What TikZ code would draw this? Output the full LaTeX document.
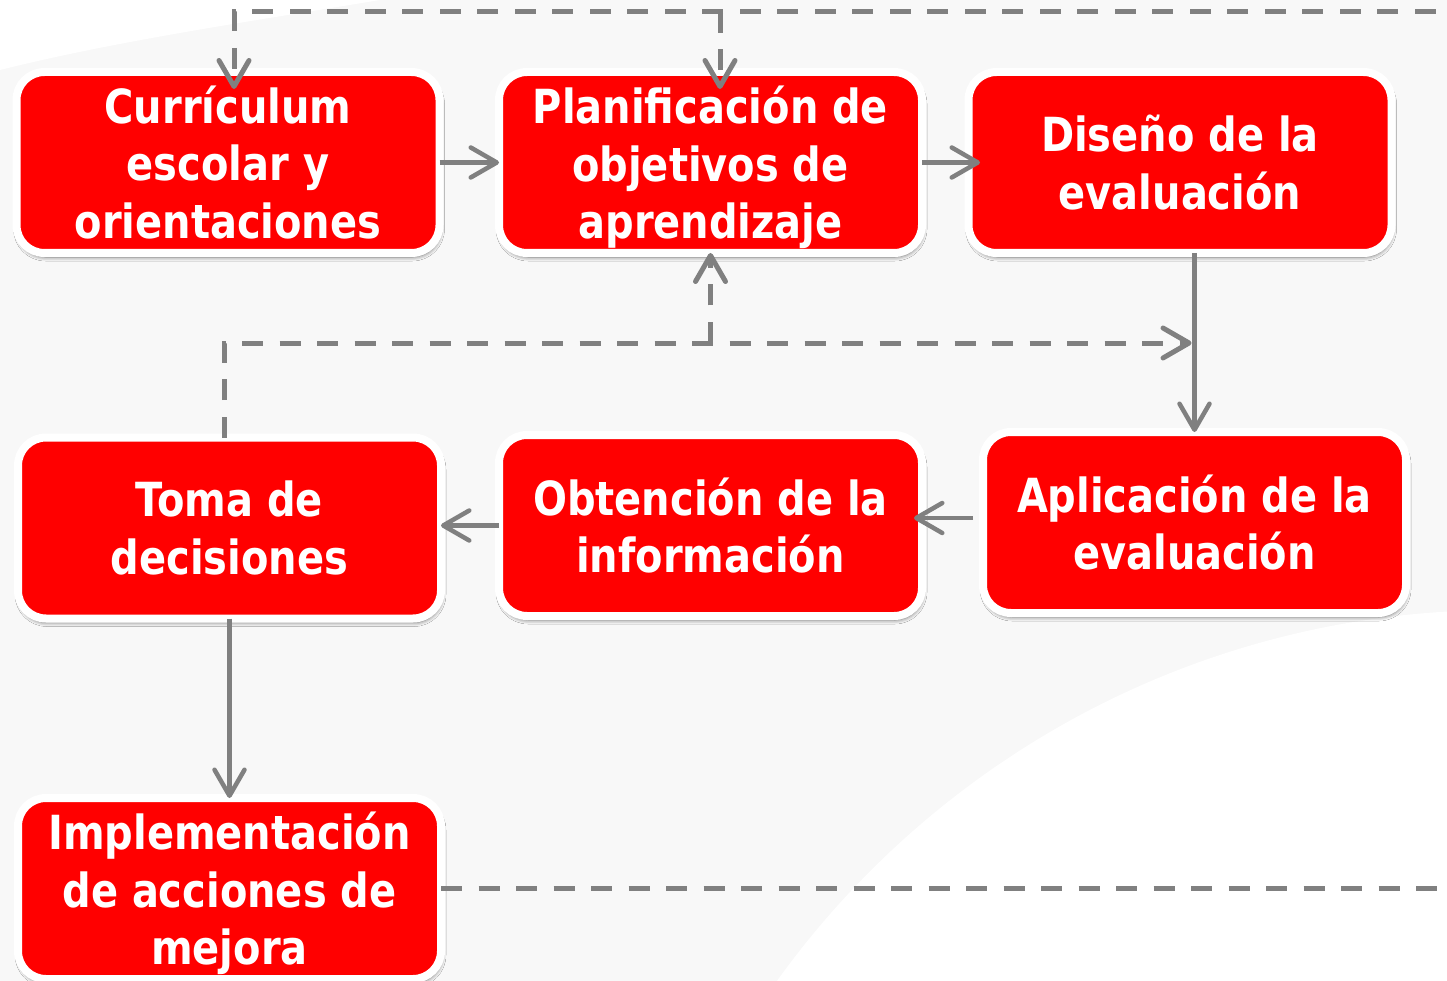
\documentclass[tikz,border=0pt]{standalone}
\usepackage{fontspec}
\newfontfamily\boxfont{DejaVu Sans Condensed}[FakeStretch=0.945]
\usetikzlibrary{arrows.meta,shadows.blur,calc}
\definecolor{boxred}{RGB}{255,0,0}
\definecolor{linegray}{RGB}{128,128,128}
\definecolor{bggray}{RGB}{248,248,248}
\newcommand\nodepth[1]{\raisebox{0pt}[\height][0pt]{#1}}
\tikzset{
  proc/.style={rectangle, rounded corners=28pt, fill=boxred, draw=white,
    line width=8pt, minimum width=423pt, minimum height=181pt,
    inner sep=0pt, outer sep=0pt, text=white, align=center,
    font={\boxfont\bfseries\fontsize{47}{57.5}\selectfont},
    blur shadow={shadow xshift=1pt, shadow yshift=-4pt,
      shadow blur radius=4pt, shadow opacity=60}},
  flow/.style={draw=linegray, line width=4.5pt,
    -{Straight Barb[length=26pt,width=30pt,round]}},
  feedback/.style={draw=linegray, line width=5pt,
    dash pattern=on 21pt off 16.5pt,
    -{Straight Barb[length=26pt,width=30pt,round]}}
}
\begin{document}
\begin{tikzpicture}[x=1pt,y=-1pt]
\useasboundingbox (0,0) rectangle (1447,981);
\clip (0,0) rectangle (1447,981);
% background
\fill[bggray] (0,0) rectangle (1447,981);
\fill[white] (1500,1500) circle (890);
\fill[white] (0,0) -- (380,0) .. controls (260,20) and (120,40) .. (0,70) -- cycle;
% boxes
\node[proc] (B1) at (228,162.5) {Currículum\\escolar y\\orientaciones};
\node[proc] (B2) at (710.5,162.5) {Planificación de\\objetivos de\\\nodepth{aprendizaje}};
\node[proc] (B3) at (1180,162.5) {Diseño de la\\evaluación};
\node[proc] (B4) at (1194.5,522.5) {Aplicación de la\\evaluación};
\node[proc] (B5) at (710.5,525.5) {Obtención de la\\información};
\node[proc] (B6) at (229.5,528) {Toma de\\decisiones};
\node[proc] (B7) at (229.5,888.5) {Implementación\\de acciones de\\\nodepth{mejora}};
% solid flow
\draw[flow] (B1.east) -- (B2.west);
\draw[flow] (B2.east) -- ([xshift=11.5pt]B3.west);
\draw[flow] (B4.north |- B3.south) -- (B4.north);
\draw[flow] ($(B4.west)+(-10,-4.5)$) -- ($(B5.east)+(-8,-7.5)$);
\draw[flow] (B5.west) -- (B5.west -| B6.east);
\draw[flow] (B6.south) -- (B7.north);
% dashed feedback
\coordinate (rtop) at (1475,12);
\coordinate (ltop) at (234,12);
\coordinate (mtop) at (720,12);
\coordinate (lmid) at (224,343);
\coordinate (mmid) at (710.5,343);
\draw[feedback] (B7.east) -- (B7.east -| rtop) -- (rtop) -- (ltop) -- ($(B1.north)+(6,17)$);
\draw[feedback] (mtop) -- ($(B2.north)+(9.5,17)$);
\draw[feedback] ($(B6.north)+(-5.5,0)$) -- (lmid) -- ($(B4.north |- lmid)+(-3,0)$);
\draw[feedback] (mmid) -- (B2.south);
\end{tikzpicture}
\end{document}
